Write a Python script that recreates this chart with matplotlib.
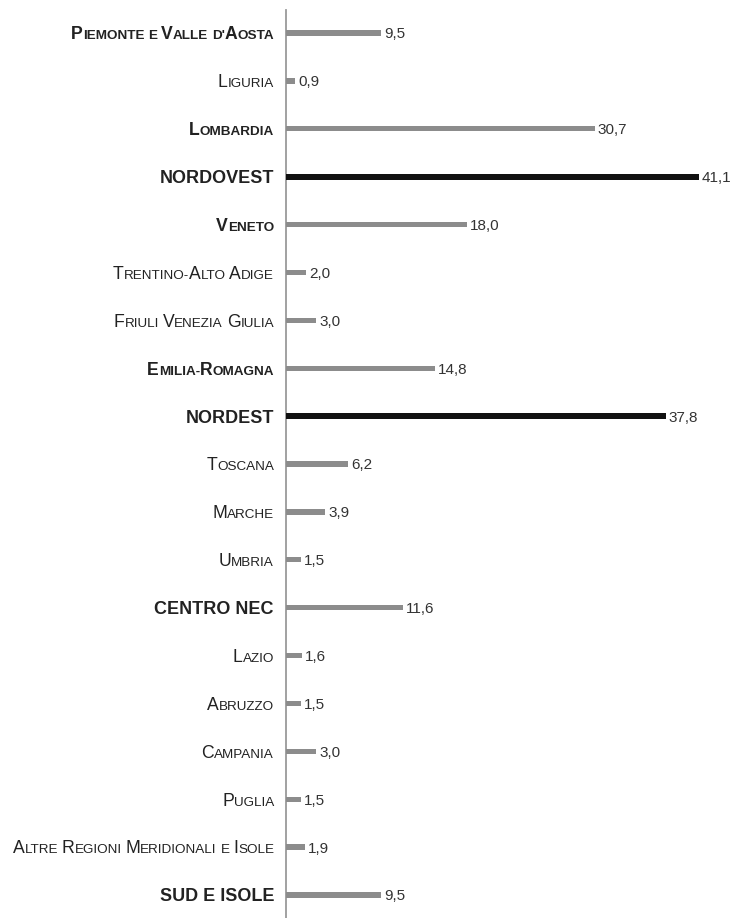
import matplotlib
matplotlib.use('Agg')
import matplotlib.pyplot as plt

# data (top to bottom)
labels = ["Piemonte e Valle d'Aosta", 'Liguria', 'Lombardia', 'NORDOVEST',
          'Veneto', 'Trentino-Alto Adige', 'Friuli Venezia Giulia', 'Emilia-Romagna',
          'NORDEST', 'Toscana', 'Marche', 'Umbria', 'CENTRO NEC', 'Lazio',
          'Abruzzo', 'Campania', 'Puglia', 'Altre Regioni Meridionali e Isole',
          'SUD E ISOLE']
values = [9.5, 0.9, 30.7, 41.1, 18.0, 2.0, 3.0, 14.8, 37.8, 6.2, 3.9, 1.5,
          11.6, 1.6, 1.5, 3.0, 1.5, 1.9, 9.5]
bold_labels = ["Piemonte e Valle d'Aosta", 'Lombardia', 'Veneto', 'Emilia-Romagna']
macro_labels = ['NORDOVEST', 'NORDEST', 'CENTRO NEC', 'SUD E ISOLE']
black_bars = ['NORDOVEST', 'NORDEST']

FONT = 'Liberation Sans'
BIG, SMALL, MACRO = 12.7, 9.7, 13.0
TXT = '#222222'

fig = plt.figure(figsize=(7.41, 9.18), dpi=100)
ax = fig.add_axes([286 / 741, 0.0, 455 / 741, 1 - 10 / 918])
renderer = fig.canvas.get_renderer()

n = len(labels)
ax.set_ylim(n - 0.52, -0.48)
ax.set_xlim(0, 455 / 10.05)

for i, (lab, v) in enumerate(zip(labels, values)):
    if lab in black_bars:
        ax.barh(i, v, height=0.13, color='#111111', zorder=3)
    else:
        ax.barh(i, v, height=0.11, color='#8c8c8c', zorder=3)
    ax.annotate(f'{v:.1f}'.replace('.', ','), xy=(v, i), xytext=(2.2, -3.9),
                textcoords='offset points', ha='left', va='baseline',
                fontsize=11, family=FONT, color='#333333')


def text_width(s, size, weight):
    t = fig.text(0, 0, s, fontsize=size, fontweight=weight, family=FONT)
    w = t.get_window_extent(renderer).width
    t.remove()
    return w


def draw_label(lab, y):
    # small caps: upper-case letters large, lower-case ones as smaller capitals
    if lab in macro_labels:
        pieces = [(lab, MACRO)]
        weight = 'bold'
        cap = MACRO
    else:
        weight = 'bold' if lab in bold_labels else 'normal'
        cap = BIG
        pieces = []
        for ch in lab:
            if ch == ' ':
                pieces.append((' ', SMALL))
                continue
            size = BIG if ch.isupper() else SMALL
            if pieces and pieces[-1][1] == size and pieces[-1][0] != ' ':
                pieces[-1] = (pieces[-1][0] + ch.upper(), size)
            else:
                pieces.append((ch.upper(), size))
    widths = []
    for s, size in pieces:
        if s == ' ':
            widths.append(text_width('a a', size, weight) - text_width('aa', size, weight))
        else:
            widths.append(text_width(s, size, weight))
    total = sum(widths)
    x = -12 - total
    for (s, size), w in zip(pieces, widths):
        if s != ' ':
            ax.annotate(s, xy=(0, y), xytext=(x * 72 / 100, -0.716 * cap / 2),
                        textcoords='offset points', ha='left', va='baseline',
                        fontsize=size, fontweight=weight, family=FONT,
                        color=TXT, annotation_clip=False)
        x += w


for i, lab in enumerate(labels):
    draw_label(lab, i)

ax.set_xticks([])
ax.set_yticks([])
for side in ['top', 'right', 'bottom']:
    ax.spines[side].set_visible(False)
ax.spines['left'].set_color('#9a9a9a')
ax.spines['left'].set_linewidth(1.3)
ax.patch.set_visible(False)

fig.savefig('out.png', dpi=100)
